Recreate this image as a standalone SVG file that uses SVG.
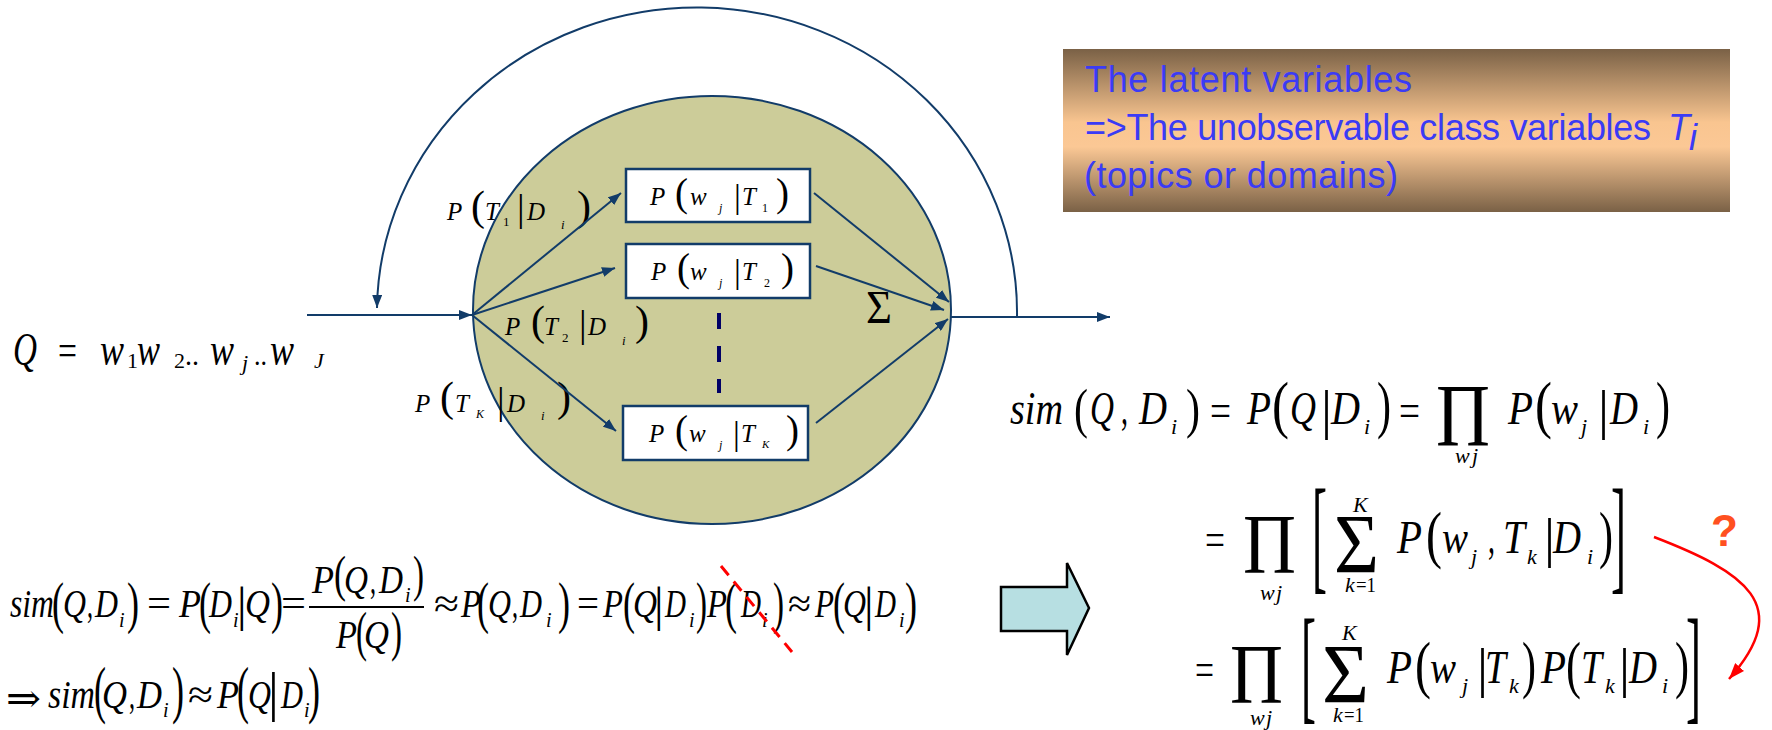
<svg xmlns="http://www.w3.org/2000/svg" width="1772" height="730" viewBox="0 0 1772 730">
<style>
.v{font-family:"Liberation Serif",serif;font-style:italic;fill:#000}
.n{font-family:"Liberation Serif","DejaVu Serif",serif;fill:#000}
.c{fill:none;stroke:#123C69;stroke-width:2}
.box{fill:#fff;stroke:#123C69;stroke-width:2.5}
.lt{font-family:"Liberation Sans",sans-serif;font-size:36px;fill:#3B3BF5}
</style>
<defs>
<marker id="ah" viewBox="0 0 13 10" refX="13" refY="5" markerWidth="13" markerHeight="10" markerUnits="userSpaceOnUse" orient="auto"><path d="M0,0 L13,5 L0,10 z" fill="#123C69"/></marker>
<marker id="ahr" viewBox="0 0 16 12" refX="16" refY="6" markerWidth="16" markerHeight="12" markerUnits="userSpaceOnUse" orient="auto"><path d="M0,0 L16,6 L0,12 z" fill="#FF0000"/></marker>
<linearGradient id="gb" x1="0" y1="0" x2="0" y2="1"><stop offset="0" stop-color="#7A6146"/><stop offset="0.45" stop-color="#F9C590"/><stop offset="0.6" stop-color="#FBC895"/><stop offset="1" stop-color="#7A6146"/></linearGradient>
</defs>
<rect width="1772" height="730" fill="#fff"/>

<g id="topic-model">
<ellipse cx="712" cy="310" rx="239" ry="214" fill="#CCCC99" stroke="#123C69" stroke-width="2"/>
<text class="n" x="866" y="323" font-size="47" textLength="26" lengthAdjust="spacingAndGlyphs">Σ</text>
<line x1="719" y1="313" x2="719" y2="393" stroke="#000066" stroke-width="4" stroke-dasharray="16 17"/>
</g>

<g id="box1">
<rect class="box" x="626" y="169" width="184" height="53"/>
<text class="v" x="650" y="205" font-size="25">P</text>
<text class="n" x="675" y="206" font-size="39">(</text>
<text class="v" x="690" y="205" font-size="25">w</text>
<text class="v" x="719" y="212" font-size="12">j</text>
<text class="n" x="734" y="208" font-size="34">|</text>
<text class="v" x="742" y="205" font-size="25">T</text>
<text class="n" x="762" y="212" font-size="12">1</text>
<text class="n" x="776" y="206" font-size="39">)</text>
</g>
<g id="box2">
<rect class="box" x="626" y="244" width="184" height="54"/>
<text class="v" x="651" y="280" font-size="25">P</text>
<text class="n" x="677" y="281" font-size="39">(</text>
<text class="v" x="690" y="280" font-size="25">w</text>
<text class="v" x="719" y="287" font-size="12">j</text>
<text class="n" x="734" y="283" font-size="34">|</text>
<text class="v" x="742" y="280" font-size="25">T</text>
<text class="n" x="764" y="287" font-size="12">2</text>
<text class="n" x="781" y="281" font-size="39">)</text>
</g>
<g id="boxK">
<rect class="box" x="623" y="406" width="185" height="54"/>
<text class="v" x="649" y="442" font-size="25">P</text>
<text class="n" x="675" y="443" font-size="39">(</text>
<text class="v" x="689" y="442" font-size="25">w</text>
<text class="v" x="719" y="449" font-size="12">j</text>
<text class="n" x="733" y="445" font-size="34">|</text>
<text class="v" x="741" y="442" font-size="25">T</text>
<text class="v" x="762" y="448" font-size="11">K</text>
<text class="n" x="786" y="443" font-size="39">)</text>
</g>

<g id="label-T1">
<text class="v" x="447" y="220" font-size="25">P</text>
<text class="n" x="471" y="220" font-size="42">(</text>
<text class="v" x="485" y="220" font-size="25">T</text>
<text class="n" x="503" y="226" font-size="13">1</text>
<text class="n" x="517" y="221" font-size="38">|</text>
<text class="v" x="527" y="220" font-size="25">D</text>
<text class="v" x="561" y="229" font-size="13">i</text>
<text class="n" x="577" y="220" font-size="42">)</text>
</g>
<g id="label-T2">
<text class="v" x="505" y="335" font-size="25">P</text>
<text class="n" x="531" y="335" font-size="42">(</text>
<text class="v" x="544" y="335" font-size="25">T</text>
<text class="n" x="562" y="342" font-size="13">2</text>
<text class="n" x="579" y="337" font-size="38">|</text>
<text class="v" x="588" y="335" font-size="25">D</text>
<text class="v" x="622" y="345" font-size="13">i</text>
<text class="n" x="635" y="335" font-size="42">)</text>
</g>
<g id="label-TK">
<text class="v" x="415" y="412" font-size="25">P</text>
<text class="n" x="440" y="411" font-size="42">(</text>
<text class="v" x="455" y="412" font-size="25">T</text>
<text class="v" x="476" y="418" font-size="12">K</text>
<text class="n" x="497" y="414" font-size="38">|</text>
<text class="v" x="507" y="412" font-size="25">D</text>
<text class="v" x="541" y="420" font-size="13">i</text>
<text class="n" x="557" y="411" font-size="42">)</text>
</g>

<g id="query">
<text class="v" x="13" y="365" font-size="46" textLength="24" lengthAdjust="spacingAndGlyphs">Q</text>
<text class="n" x="58" y="365" font-size="44" textLength="19" lengthAdjust="spacingAndGlyphs">=</text>
<text class="v" x="100" y="365" font-size="46" textLength="24" lengthAdjust="spacingAndGlyphs">w</text>
<text class="n" x="127" y="368" font-size="22">1</text>
<text class="v" x="137" y="365" font-size="46" textLength="23" lengthAdjust="spacingAndGlyphs">w</text>
<text class="n" x="174" y="368" font-size="22">2</text>
<text class="n" x="185" y="365" font-size="30" textLength="14" lengthAdjust="spacingAndGlyphs">..</text>
<text class="v" x="210" y="365" font-size="46" textLength="24" lengthAdjust="spacingAndGlyphs">w</text>
<text class="v" x="242" y="370" font-size="22">j</text>
<text class="n" x="254" y="365" font-size="30" textLength="13" lengthAdjust="spacingAndGlyphs">..</text>
<text class="v" x="270" y="365" font-size="46" textLength="24" lengthAdjust="spacingAndGlyphs">w</text>
<text class="v" x="314" y="368" font-size="22">J</text>
</g>

<g id="latent-note">
<rect x="1063" y="49" width="667" height="163" fill="url(#gb)"/>
<text class="lt" x="1085" y="92" textLength="327">The latent variables</text>
<text class="lt" x="1085" y="140" textLength="566">=&gt;The unobservable class variables</text>
<text class="lt" x="1668" y="140" font-style="italic">T</text>
<text class="lt" x="1689" y="150" font-size="22" font-style="italic">i</text>
<text class="lt" x="1084" y="188" textLength="314">(topics or domains)</text>
</g>

<g id="connectors">
<path class="c" d="M307,315 L472,315" marker-end="url(#ah)"/>
<path class="c" d="M472,315 L621,193" marker-end="url(#ah)"/>
<path class="c" d="M472,315 L615,268" marker-end="url(#ah)"/>
<path class="c" d="M472,315 L616,431" marker-end="url(#ah)"/>
<path class="c" d="M814,193 L949,302" marker-end="url(#ah)"/>
<path class="c" d="M816,266 L944,310" marker-end="url(#ah)"/>
<path class="c" d="M816,423 L948,319" marker-end="url(#ah)"/>
<path class="c" d="M951,317 L1110,317" marker-end="url(#ah)"/>
<path class="c" d="M1017,317 A320,305 0 0 0 377,308" marker-end="url(#ah)"/>
<path d="M1654,537 C1745,572 1795,605 1729,679" fill="none" stroke="#FF0000" stroke-width="2.5" marker-end="url(#ahr)"/>
</g>

<g id="bayes">
<text class="v" x="10" y="617" font-size="40" textLength="44" lengthAdjust="spacingAndGlyphs">sim</text>
<text class="n" x="52" y="622" font-size="56" textLength="12" lengthAdjust="spacingAndGlyphs">(</text>
<text class="v" x="63" y="617" font-size="40" textLength="23" lengthAdjust="spacingAndGlyphs">Q</text>
<text class="n" x="87" y="617" font-size="40" textLength="6" lengthAdjust="spacingAndGlyphs">,</text>
<text class="v" x="95" y="617" font-size="40" textLength="23" lengthAdjust="spacingAndGlyphs">D</text>
<text class="v" x="119" y="627" font-size="20">i</text>
<text class="n" x="127" y="622" font-size="56" textLength="12" lengthAdjust="spacingAndGlyphs">)</text>
<text class="n" x="147" y="617" font-size="40" textLength="24" lengthAdjust="spacingAndGlyphs">=</text>
<text class="v" x="179" y="617" font-size="40" textLength="22" lengthAdjust="spacingAndGlyphs">P</text>
<text class="n" x="199" y="622" font-size="56" textLength="12" lengthAdjust="spacingAndGlyphs">(</text>
<text class="v" x="209" y="617" font-size="40" textLength="23" lengthAdjust="spacingAndGlyphs">D</text>
<text class="v" x="233" y="627" font-size="20">i</text>
<text class="n" x="237" y="621" font-size="48">|</text>
<text class="v" x="245" y="617" font-size="40" textLength="25" lengthAdjust="spacingAndGlyphs">Q</text>
<text class="n" x="271" y="622" font-size="56" textLength="12" lengthAdjust="spacingAndGlyphs">)</text>
<text class="n" x="281" y="617" font-size="40" textLength="25" lengthAdjust="spacingAndGlyphs">=</text>
<text class="v" x="312" y="593" font-size="40" textLength="22" lengthAdjust="spacingAndGlyphs">P</text>
<text class="n" x="334" y="591" font-size="50" textLength="12" lengthAdjust="spacingAndGlyphs">(</text>
<text class="v" x="344" y="593" font-size="40" textLength="24" lengthAdjust="spacingAndGlyphs">Q</text>
<text class="n" x="370" y="593" font-size="40" textLength="6" lengthAdjust="spacingAndGlyphs">,</text>
<text class="v" x="379" y="593" font-size="40" textLength="24" lengthAdjust="spacingAndGlyphs">D</text>
<text class="v" x="405" y="602" font-size="20">i</text>
<text class="n" x="413" y="591" font-size="50" textLength="11" lengthAdjust="spacingAndGlyphs">)</text>
<line x1="309" y1="607" x2="424" y2="607" stroke="#000" stroke-width="2"/>
<text class="v" x="336" y="648" font-size="40" textLength="21" lengthAdjust="spacingAndGlyphs">P</text>
<text class="n" x="356" y="650" font-size="55" textLength="11" lengthAdjust="spacingAndGlyphs">(</text>
<text class="v" x="364" y="648" font-size="40" textLength="25" lengthAdjust="spacingAndGlyphs">Q</text>
<text class="n" x="391" y="650" font-size="55" textLength="11" lengthAdjust="spacingAndGlyphs">)</text>
<text class="n" x="434" y="617" font-size="40" textLength="25" lengthAdjust="spacingAndGlyphs">≈</text>
<text class="v" x="461" y="617" font-size="40" textLength="20" lengthAdjust="spacingAndGlyphs">P</text>
<text class="n" x="477" y="622" font-size="56" textLength="12" lengthAdjust="spacingAndGlyphs">(</text>
<text class="v" x="488" y="617" font-size="40" textLength="23" lengthAdjust="spacingAndGlyphs">Q</text>
<text class="n" x="512" y="617" font-size="40" textLength="6" lengthAdjust="spacingAndGlyphs">,</text>
<text class="v" x="520" y="617" font-size="40" textLength="22" lengthAdjust="spacingAndGlyphs">D</text>
<text class="v" x="546" y="627" font-size="20">i</text>
<text class="n" x="558" y="622" font-size="56" textLength="12" lengthAdjust="spacingAndGlyphs">)</text>
<text class="n" x="577" y="617" font-size="40" textLength="22" lengthAdjust="spacingAndGlyphs">=</text>
<text class="v" x="603" y="617" font-size="40" textLength="20" lengthAdjust="spacingAndGlyphs">P</text>
<text class="n" x="623" y="622" font-size="56" textLength="12" lengthAdjust="spacingAndGlyphs">(</text>
<text class="v" x="633" y="617" font-size="40" textLength="24" lengthAdjust="spacingAndGlyphs">Q</text>
<text class="n" x="654" y="621" font-size="48">|</text>
<text class="v" x="665" y="617" font-size="40" textLength="21" lengthAdjust="spacingAndGlyphs">D</text>
<text class="v" x="689" y="627" font-size="20">i</text>
<text class="n" x="696" y="622" font-size="56" textLength="11" lengthAdjust="spacingAndGlyphs">)</text>
<text class="v" x="707" y="617" font-size="40" textLength="20" lengthAdjust="spacingAndGlyphs">P</text>
<text class="n" x="725" y="622" font-size="56" textLength="12" lengthAdjust="spacingAndGlyphs">(</text>
<text class="v" x="741" y="617" font-size="40" textLength="20" lengthAdjust="spacingAndGlyphs">D</text>
<text class="v" x="762" y="627" font-size="20">i</text>
<text class="n" x="773" y="622" font-size="56" textLength="11" lengthAdjust="spacingAndGlyphs">)</text>
<text class="n" x="788" y="617" font-size="40" textLength="23" lengthAdjust="spacingAndGlyphs">≈</text>
<text class="v" x="815" y="617" font-size="40" textLength="19" lengthAdjust="spacingAndGlyphs">P</text>
<text class="n" x="833" y="622" font-size="56" textLength="12" lengthAdjust="spacingAndGlyphs">(</text>
<text class="v" x="843" y="617" font-size="40" textLength="23" lengthAdjust="spacingAndGlyphs">Q</text>
<text class="n" x="864" y="621" font-size="48">|</text>
<text class="v" x="875" y="617" font-size="40" textLength="21" lengthAdjust="spacingAndGlyphs">D</text>
<text class="v" x="899" y="627" font-size="20">i</text>
<text class="n" x="905" y="622" font-size="56" textLength="12" lengthAdjust="spacingAndGlyphs">)</text>
<line x1="721" y1="566" x2="792" y2="652" stroke="#FF0000" stroke-width="3" stroke-dasharray="12 8"/>

<text class="n" x="6" y="712" font-size="40" textLength="35" lengthAdjust="spacingAndGlyphs">⇒</text>
<text class="v" x="48" y="708" font-size="40" textLength="47" lengthAdjust="spacingAndGlyphs">sim</text>
<text class="n" x="94" y="711" font-size="63" textLength="12" lengthAdjust="spacingAndGlyphs">(</text>
<text class="v" x="102" y="708" font-size="40" textLength="25" lengthAdjust="spacingAndGlyphs">Q</text>
<text class="n" x="129" y="708" font-size="40" textLength="6" lengthAdjust="spacingAndGlyphs">,</text>
<text class="v" x="137" y="708" font-size="40" textLength="25" lengthAdjust="spacingAndGlyphs">D</text>
<text class="v" x="163" y="717" font-size="20">i</text>
<text class="n" x="172" y="711" font-size="63" textLength="12" lengthAdjust="spacingAndGlyphs">)</text>
<text class="n" x="188" y="708" font-size="40" textLength="25" lengthAdjust="spacingAndGlyphs">≈</text>
<text class="v" x="217" y="708" font-size="40" textLength="22" lengthAdjust="spacingAndGlyphs">P</text>
<text class="n" x="237" y="711" font-size="63" textLength="12" lengthAdjust="spacingAndGlyphs">(</text>
<text class="v" x="248" y="708" font-size="40" textLength="23" lengthAdjust="spacingAndGlyphs">Q</text>
<text class="n" x="268" y="710" font-size="54">|</text>
<text class="v" x="281" y="708" font-size="40" textLength="22" lengthAdjust="spacingAndGlyphs">D</text>
<text class="v" x="304" y="717" font-size="20">i</text>
<text class="n" x="308" y="711" font-size="63" textLength="12" lengthAdjust="spacingAndGlyphs">)</text>
</g>

<g id="implies-arrow">
<polygon points="1001,587 1067,587 1067,563 1089,608 1067,655 1067,631 1001,631" fill="#B7DFE2" stroke="#000" stroke-width="2.5"/>
</g>

<g id="likelihood">
<text class="v" x="1010" y="424" font-size="46" textLength="53" lengthAdjust="spacingAndGlyphs">sim</text>
<text class="n" x="1074" y="427" font-size="55" textLength="14" lengthAdjust="spacingAndGlyphs">(</text>
<text class="v" x="1090" y="424" font-size="46" textLength="24" lengthAdjust="spacingAndGlyphs">Q</text>
<text class="n" x="1121" y="424" font-size="46" textLength="7" lengthAdjust="spacingAndGlyphs">,</text>
<text class="v" x="1139" y="424" font-size="46" textLength="28" lengthAdjust="spacingAndGlyphs">D</text>
<text class="v" x="1171" y="434" font-size="22">i</text>
<text class="n" x="1186" y="427" font-size="55" textLength="14" lengthAdjust="spacingAndGlyphs">)</text>
<text class="n" x="1210" y="426" font-size="46" textLength="21" lengthAdjust="spacingAndGlyphs">=</text>
<text class="v" x="1247" y="424" font-size="46" textLength="24" lengthAdjust="spacingAndGlyphs">P</text>
<text class="n" x="1272" y="426" font-size="64" textLength="17" lengthAdjust="spacingAndGlyphs">(</text>
<text class="v" x="1290" y="424" font-size="46" textLength="26" lengthAdjust="spacingAndGlyphs">Q</text>
<text class="n" x="1321" y="428" font-size="55">|</text>
<text class="v" x="1331" y="424" font-size="46" textLength="29" lengthAdjust="spacingAndGlyphs">D</text>
<text class="v" x="1364" y="434" font-size="22">i</text>
<text class="n" x="1377" y="426" font-size="64" textLength="14" lengthAdjust="spacingAndGlyphs">)</text>
<text class="n" x="1399" y="426" font-size="46" textLength="21" lengthAdjust="spacingAndGlyphs">=</text>
<text class="n" x="1436" y="445" font-size="88" textLength="54" lengthAdjust="spacingAndGlyphs">Π</text>
<text class="v" x="1455" y="463" font-size="22">w</text>
<text class="v" x="1472" y="463" font-size="22">j</text>
<text class="v" x="1508" y="424" font-size="46" textLength="25" lengthAdjust="spacingAndGlyphs">P</text>
<text class="n" x="1535" y="426" font-size="64" textLength="17" lengthAdjust="spacingAndGlyphs">(</text>
<text class="v" x="1551" y="424" font-size="46" textLength="27" lengthAdjust="spacingAndGlyphs">w</text>
<text class="v" x="1581" y="434" font-size="22">j</text>
<text class="n" x="1598" y="428" font-size="55">|</text>
<text class="v" x="1610" y="424" font-size="46" textLength="28" lengthAdjust="spacingAndGlyphs">D</text>
<text class="v" x="1643" y="434" font-size="22">i</text>
<text class="n" x="1656" y="426" font-size="64" textLength="14" lengthAdjust="spacingAndGlyphs">)</text>
</g>

<g id="mixture">
<text class="n" x="1205" y="555" font-size="46" textLength="20" lengthAdjust="spacingAndGlyphs">=</text>
<text class="n" x="1243" y="573" font-size="85" textLength="53" lengthAdjust="spacingAndGlyphs">Π</text>
<text class="v" x="1260" y="600" font-size="22">w</text>
<text class="v" x="1276" y="600" font-size="22">j</text>
<text class="n" x="1312" y="577" font-size="127" textLength="15" lengthAdjust="spacingAndGlyphs">[</text>
<text class="v" x="1353" y="512" font-size="22">K</text>
<text class="n" x="1334" y="573" font-size="85" textLength="45" lengthAdjust="spacingAndGlyphs">Σ</text>
<text class="v" x="1345" y="592" font-size="22">k</text>
<text class="n" x="1356" y="592" font-size="22" textLength="20" lengthAdjust="spacingAndGlyphs">=1</text>
<text class="v" x="1397" y="553" font-size="46" textLength="25" lengthAdjust="spacingAndGlyphs">P</text>
<text class="n" x="1426" y="556" font-size="63" textLength="16" lengthAdjust="spacingAndGlyphs">(</text>
<text class="v" x="1442" y="553" font-size="46" textLength="26" lengthAdjust="spacingAndGlyphs">w</text>
<text class="v" x="1471" y="564" font-size="22">j</text>
<text class="n" x="1488" y="553" font-size="46" textLength="7" lengthAdjust="spacingAndGlyphs">,</text>
<text class="v" x="1503" y="553" font-size="46" textLength="22" lengthAdjust="spacingAndGlyphs">T</text>
<text class="v" x="1527" y="564" font-size="22">k</text>
<text class="n" x="1544" y="556" font-size="55">|</text>
<text class="v" x="1553" y="553" font-size="46" textLength="28" lengthAdjust="spacingAndGlyphs">D</text>
<text class="v" x="1587" y="564" font-size="22">i</text>
<text class="n" x="1599" y="556" font-size="63" textLength="14" lengthAdjust="spacingAndGlyphs">)</text>
<text class="n" x="1611" y="577" font-size="127" textLength="15" lengthAdjust="spacingAndGlyphs">]</text>
<text x="1711" y="546" font-family="Liberation Sans, sans-serif" font-weight="bold" font-size="44" fill="#FF5020">?</text>
</g>

<g id="factored">
<text class="n" x="1195" y="685" font-size="46" textLength="19" lengthAdjust="spacingAndGlyphs">=</text>
<text class="n" x="1230" y="703" font-size="85" textLength="53" lengthAdjust="spacingAndGlyphs">Π</text>
<text class="v" x="1250" y="725" font-size="22">w</text>
<text class="v" x="1266" y="725" font-size="22">j</text>
<text class="n" x="1301" y="707" font-size="127" textLength="15" lengthAdjust="spacingAndGlyphs">[</text>
<text class="v" x="1342" y="640" font-size="22">K</text>
<text class="n" x="1322" y="703" font-size="85" textLength="47" lengthAdjust="spacingAndGlyphs">Σ</text>
<text class="v" x="1333" y="722" font-size="22">k</text>
<text class="n" x="1344" y="722" font-size="22" textLength="20" lengthAdjust="spacingAndGlyphs">=1</text>
<text class="v" x="1387" y="683" font-size="46" textLength="25" lengthAdjust="spacingAndGlyphs">P</text>
<text class="n" x="1415" y="686" font-size="63" textLength="16" lengthAdjust="spacingAndGlyphs">(</text>
<text class="v" x="1430" y="683" font-size="46" textLength="26" lengthAdjust="spacingAndGlyphs">w</text>
<text class="v" x="1462" y="693" font-size="22">j</text>
<text class="n" x="1477" y="686" font-size="55">|</text>
<text class="v" x="1485" y="683" font-size="46" textLength="21" lengthAdjust="spacingAndGlyphs">T</text>
<text class="v" x="1509" y="693" font-size="22">k</text>
<text class="n" x="1522" y="686" font-size="63" textLength="14" lengthAdjust="spacingAndGlyphs">)</text>
<text class="v" x="1541" y="683" font-size="46" textLength="25" lengthAdjust="spacingAndGlyphs">P</text>
<text class="n" x="1566" y="686" font-size="63" textLength="15" lengthAdjust="spacingAndGlyphs">(</text>
<text class="v" x="1581" y="683" font-size="46" textLength="21" lengthAdjust="spacingAndGlyphs">T</text>
<text class="v" x="1605" y="693" font-size="22">k</text>
<text class="n" x="1619" y="686" font-size="55">|</text>
<text class="v" x="1629" y="683" font-size="46" textLength="28" lengthAdjust="spacingAndGlyphs">D</text>
<text class="v" x="1662" y="693" font-size="22">i</text>
<text class="n" x="1675" y="686" font-size="63" textLength="14" lengthAdjust="spacingAndGlyphs">)</text>
<text class="n" x="1686" y="707" font-size="127" textLength="15" lengthAdjust="spacingAndGlyphs">]</text>
</g>
</svg>
